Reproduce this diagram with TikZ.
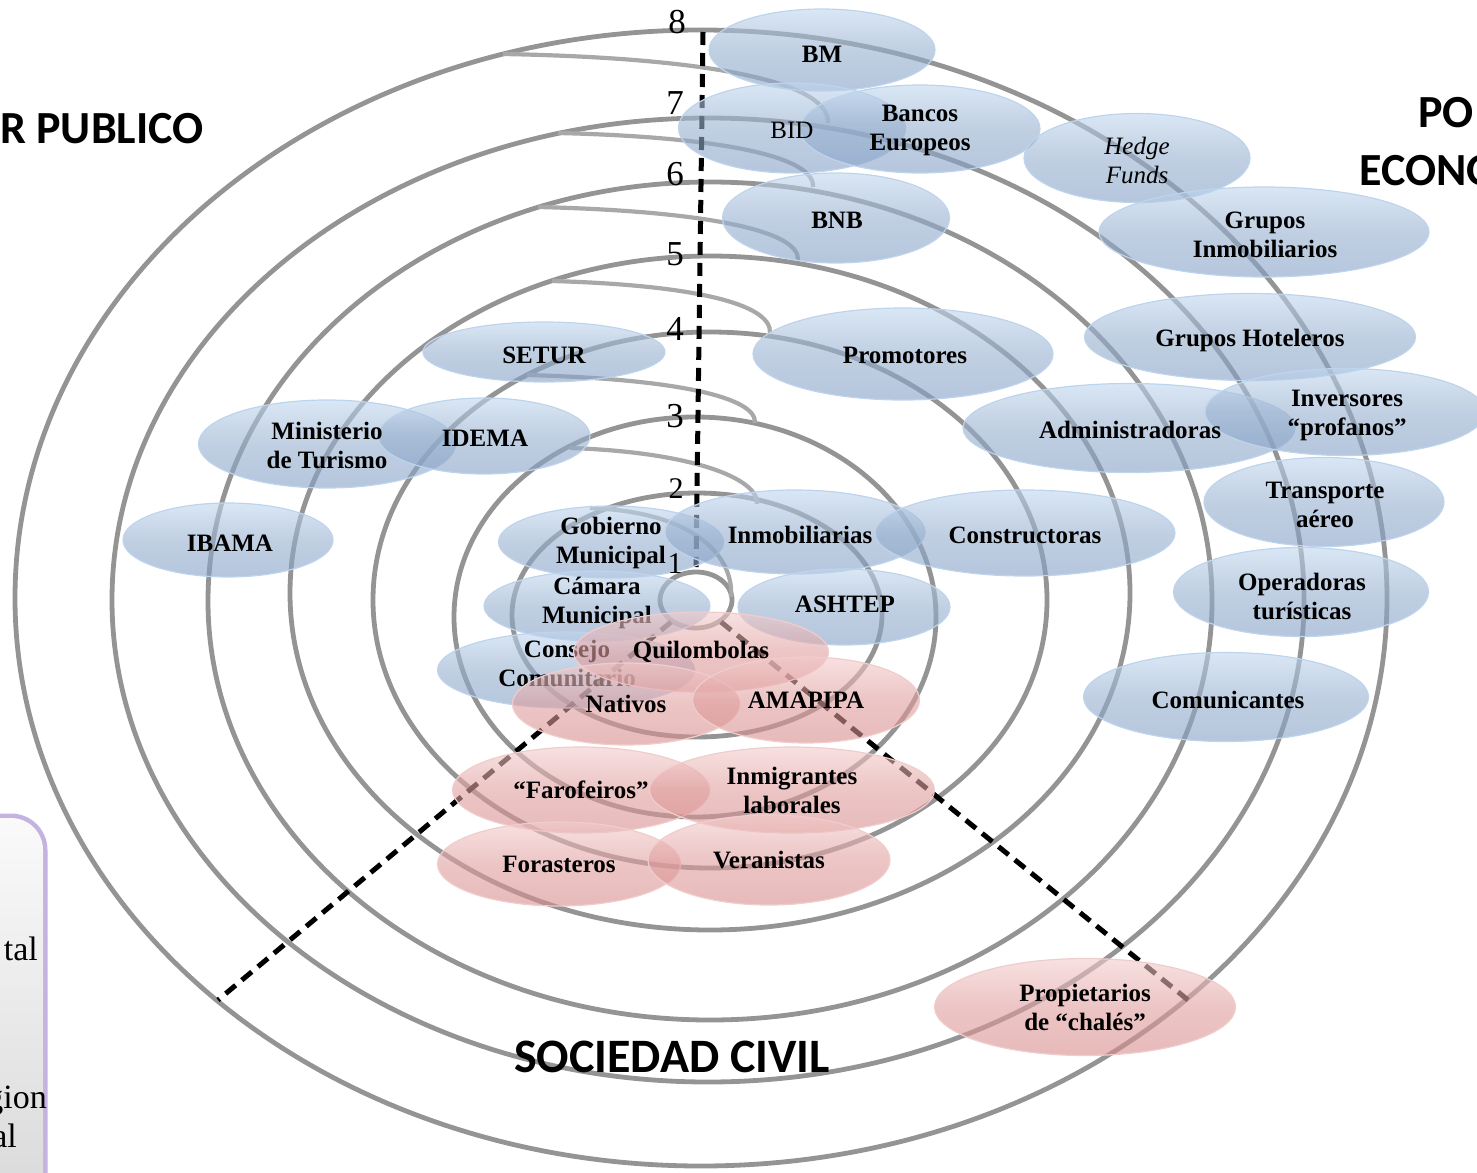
\documentclass[tikz,border=0pt]{standalone}
\usepackage{fontspec}
\setmainfont{Liberation Serif}
\newfontfamily\titlefont{Carlito}
\usetikzlibrary{shapes.geometric}

\definecolor{ringgray}{RGB}{148,148,148}
\definecolor{tailgray}{RGB}{168,168,168}
\definecolor{pubtop}{RGB}{192,214,238}
\definecolor{pubmid}{RGB}{150,175,206}
\definecolor{pubbot}{RGB}{132,160,198}
\definecolor{publine}{RGB}{190,212,236}
\definecolor{civtop}{RGB}{243,204,204}
\definecolor{civmid}{RGB}{224,158,158}
\definecolor{civbot}{RGB}{216,140,140}
\definecolor{civline}{RGB}{240,205,205}
\definecolor{boxglow}{RGB}{196,178,224}

\begin{document}
\begin{tikzpicture}[x=1pt,y=-1pt,
  ring/.style={draw=ringgray,line width=4.8pt},
  tail/.style={draw=tailgray,line width=4.2pt},
  spoke/.style={draw=black,line width=5pt,dash pattern=on 13pt off 8pt},
  actor/.style={ellipse,inner sep=0pt,fill opacity=0.6,line width=1.2pt},
  pub/.style={actor,draw=publine,top color=pubtop,bottom color=pubbot,middle color=pubmid},
  civ/.style={actor,draw=civline,top color=civtop,bottom color=civbot,middle color=civmid,
    text opacity=1,align=center,font=\fontsize{25}{29}\selectfont\bfseries},
  lbl/.style={inner sep=0pt,align=center,font=\fontsize{25}{29}\selectfont\bfseries},
  ringlabel/.style={inner sep=0pt,font=\fontsize{35}{35}\selectfont},
  sector/.style={inner sep=0pt,font=\titlefont\fontsize{46}{52}\selectfont\bfseries},
  boxtext/.style={inner sep=0pt,anchor=base east,font=\fontsize{34}{34}\selectfont}]
\useasboundingbox (0,0) rectangle (1477,1172);

% rings of the spiral
\draw[ring] (701,598) ellipse [x radius=686,y radius=568];
\draw[ring] (708,600) ellipse [x radius=596,y radius=482];
\draw[ring] (710,601) ellipse [x radius=502,y radius=419];
\draw[ring] (710,593) ellipse [x radius=420,y radius=337];
\draw[ring] (710,600) ellipse [x radius=337,y radius=268];
\draw[ring] (695,617) ellipse [x radius=241,y radius=200];
\draw[ring] (697,615) ellipse [x radius=185,y radius=122];
\draw[ring] (696,600) ellipse [x radius=36,y radius=28];
\draw[tail] (503,54) .. controls (720,58) and (830,84) .. (828,123);
\draw[tail] (558,133) .. controls (724,137) and (815,157) .. (813,187);
\draw[tail] (538,207) .. controls (707,211) and (800,231) .. (798,260);
\draw[tail] (552,281) .. controls (694,285) and (772,304) .. (770,333);
\draw[tail] (527,375) .. controls (675,379) and (757,397) .. (755,423);
\draw[tail] (570,448) .. controls (690,452) and (759,478) .. (757,504);
\draw[tail] (590,508) .. controls (700,512) and (734,560) .. (731,597);

\coordinate (vtop) at (703,32);
\coordinate (vbot) at (696,567);
\coordinate (lin) at (671,622);
\coordinate (lout) at (218,1000);
\coordinate (rin) at (721,622);
\coordinate (rout) at (1188,1000);
\draw[spoke] (vtop) -- (vbot);
\draw[spoke] (lin) -- (lout);
\draw[spoke] (rin) -- (rout);

% public and economic actors
\node[pub,minimum width=226,minimum height=82] (bm) at (822,50) {};
\node[pub,minimum width=227,minimum height=90] (bid) at (792,128) {};
\node[pub,minimum width=240,minimum height=88] (bancos) at (920,129) {};
\node[pub,minimum width=226,minimum height=89] (hedge) at (1137,158) {};
\node[pub,minimum width=227,minimum height=90] (bnb) at (836,218) {};
\node[pub,minimum width=330,minimum height=90] (grinm) at (1264,232) {};
\node[pub,minimum width=300,minimum height=92] (promot) at (903,354) {};
\node[pub,minimum width=242,minimum height=60] (setur) at (544,352) {};
\node[pub,minimum width=331,minimum height=87] (grhot) at (1250,337) {};
\node[pub,minimum width=257,minimum height=88] (minist) at (327,444) {};
\node[pub,minimum width=212,minimum height=76] (idema) at (484,436) {};
\node[pub,minimum width=332,minimum height=89] (admin) at (1129,428) {};
\node[pub,minimum width=280,minimum height=87] (invers) at (1345,412) {};
\node[pub,minimum width=240,minimum height=89] (transp) at (1324,502) {};
\node[pub,minimum width=210,minimum height=74] (ibama) at (228,540) {};
\node[pub,minimum width=225,minimum height=72] (gobmun) at (611,542) {};
\node[pub,minimum width=260,minimum height=84] (inmob) at (795,532) {};
\node[pub,minimum width=300,minimum height=86] (constr) at (1025,533) {};
\node[pub,minimum width=226,minimum height=70] (camara) at (597,606) {};
\node[pub,minimum width=212,minimum height=76] (ashtep) at (844,607) {};
\node[pub,minimum width=255,minimum height=89] (operad) at (1301,592) {};
\node[pub,minimum width=257,minimum height=76] (consejo) at (566,670) {};
\node[pub,minimum width=285,minimum height=89] (comunic) at (1226,697) {};

\node[lbl] (bm-t) at (822,54) {BM};
\node[lbl,font=\fontsize{25}{29}\selectfont] (bid-t) at (792,130) {BID};
\node[lbl] (bancos-t) at (920,130) {Bancos\\Europeos};
\node[lbl,font=\fontsize{25}{29}\selectfont\itshape] (hedge-t) at (1137,160) {Hedge\\Funds};
\node[lbl] (bnb-t) at (837,220) {BNB};
\node[lbl] (grinm-t) at (1265,235) {Grupos\\Inmobiliarios};
\node[lbl] (promot-t) at (905,355) {Promotores};
\node[lbl] (setur-t) at (544,355) {SETUR};
\node[lbl] (grhot-t) at (1250,340) {Grupos Hoteleros};
\node[lbl] (minist-t) at (327,445) {Ministerio\\de Turismo};
\node[lbl] (idema-t) at (485,438) {IDEMA};
\node[lbl] (admin-t) at (1130,430) {Administradoras};
\node[lbl] (invers-t) at (1347,415) {Inversores\\“profanos”};
\node[lbl] (transp-t) at (1325,505) {Transporte\\aéreo};
\node[lbl] (ibama-t) at (230,543) {IBAMA};
\node[lbl] (gobmun-t) at (611,543) {Gobierno\\Municipal};
\node[lbl] (inmob-t) at (800,535) {Inmobiliarias};
\node[lbl] (constr-t) at (1025,535) {Constructoras};
\node[lbl] (camara-t) at (597,603) {Cámara\\Municipal};
\node[lbl] (ashtep-t) at (845,604) {ASHTEP};
\node[lbl] (operad-t) at (1302,596) {Operadoras\\turísticas};
\node[lbl] (consejo-t) at (567,663) {Consejo\\Comunitario};
\node[lbl] (comunic-t) at (1228,700) {Comunicantes};

% civil society
\node[civ,minimum width=255,minimum height=80] (quilom) at (701,652) {Quilombolas};
\node[civ,minimum width=227,minimum height=82] (nativos) at (626,704) {Nativos};
\node[civ,minimum width=227,minimum height=86] (amapipa) at (806,700) {AMAPIPA};
\node[civ,minimum width=257,minimum height=86] (farof) at (581,790) {“Farofeiros”};
\node[civ,minimum width=285,minimum height=86] (inmigr) at (792,790) {Inmigrantes\\laborales};
\node[civ,minimum width=243,minimum height=84] (foras) at (559,864) {Forasteros};
\node[civ,minimum width=242,minimum height=90] (veran) at (769,860) {Veranistas};
\node[civ,minimum width=301,minimum height=97] (propiet) at (1085,1007) {Propietarios\\de “chalés”};

% ring numbers
\node[ringlabel] (r8) at (677,22) {8};
\node[ringlabel] (r7) at (675,103) {7};
\node[ringlabel] (r6) at (675,174) {6};
\node[ringlabel] (r5) at (675,254) {5};
\node[ringlabel] (r4) at (675,329) {4};
\node[ringlabel] (r3) at (675,416) {3};
\node[ringlabel,font=\fontsize{30}{30}\selectfont] (r2) at (676,489) {2};
\node[ringlabel,font=\fontsize{30}{30}\selectfont] (r1) at (675,564) {1};

% sectors
\node[sector,anchor=base west] (secpub) at (0,143) {R PUBLICO};
\node[sector,anchor=base west] (podeco) at (1418,127) {PO};
\node[sector,anchor=base west] (econo) at (1359,185) {ECONO};
\node[sector,anchor=base,font=\titlefont\fontsize{48}{52}\selectfont\bfseries] (soccivil) at (672,1072) {SOCIEDAD CIVIL};

% box at the left
\draw[line width=9pt,draw=boxglow,rounded corners=32pt] (-60,818) rectangle (43,1240);
\shade[top color=gray!4,bottom color=gray!32,rounded corners=32pt] (-60,818) rectangle (43,1240);
\node[boxtext] (bx1) at (38,960) {tal};
\node[boxtext] (bx2) at (47,1108) {gion};
\node[boxtext] (bx3) at (17,1147) {al};
\end{tikzpicture}
\end{document}
